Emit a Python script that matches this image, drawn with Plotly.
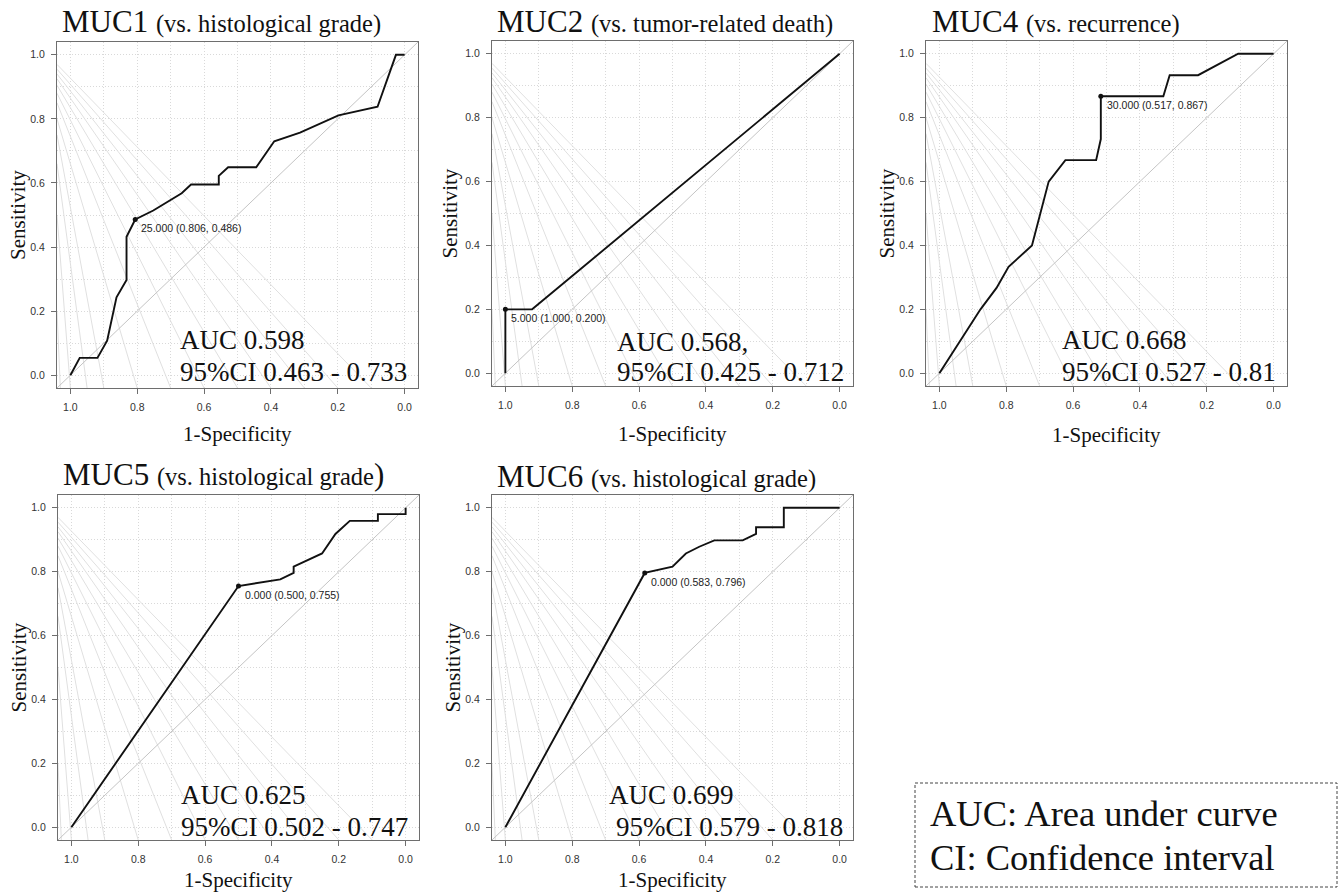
import plotly.graph_objects as go

W, H = 1344, 893

# ---------------- data ----------------
PANEL_NAMES = ["MUC1", "MUC2", "MUC4", "MUC5", "MUC6"]
SUBTITLES = ["(vs. histological grade)", "(vs. tumor-related death)",
             "(vs. recurrence)", "(vs. histological grade", "(vs. histological grade)"]
BIG_CLOSE_PAREN = [False, False, False, True, False]

# specificity (x, plotted 1 -> 0) and sensitivity (y)
spec_muc1 = [1.0, 0.972, 0.919, 0.890, 0.862, 0.832, 0.832, 0.806, 0.752, 0.667, 0.639,
             0.556, 0.556, 0.528, 0.444, 0.390, 0.313, 0.198, 0.081, 0.026, 0.0]
sens_muc1 = [0.0, 0.054, 0.054, 0.108, 0.243, 0.297, 0.432, 0.486, 0.514, 0.568, 0.595,
             0.595, 0.622, 0.649, 0.649, 0.730, 0.757, 0.811, 0.838, 1.0, 1.0]

spec_muc2 = [1.0, 1.0, 0.920, 0.0]
sens_muc2 = [0.0, 0.200, 0.200, 1.0]

spec_muc4 = [1.0, 0.877, 0.829, 0.793, 0.723, 0.673, 0.623, 0.531, 0.517, 0.517,
             0.330, 0.311, 0.226, 0.106, 0.0]
sens_muc4 = [0.0, 0.200, 0.267, 0.333, 0.400, 0.600, 0.667, 0.667, 0.733, 0.867,
             0.867, 0.933, 0.933, 1.0, 1.0]

spec_muc5 = [1.0, 0.500, 0.375, 0.335, 0.335, 0.250, 0.210, 0.167, 0.083, 0.083, 0.0, 0.0]
sens_muc5 = [0.0, 0.755, 0.776, 0.796, 0.816, 0.857, 0.918, 0.959, 0.959, 0.980, 0.980, 1.0]

spec_muc6 = [1.0, 0.583, 0.500, 0.460, 0.420, 0.375, 0.290, 0.250, 0.250, 0.167, 0.167, 0.0]
sens_muc6 = [0.0, 0.796, 0.816, 0.857, 0.878, 0.898, 0.898, 0.918, 0.939, 0.939, 1.0, 1.0]

SPECS = [spec_muc1, spec_muc2, spec_muc4, spec_muc5, spec_muc6]
SENSS = [sens_muc1, sens_muc2, sens_muc4, sens_muc5, sens_muc6]

THRESHOLDS = ["25.000", "5.000", "30.000", "0.000", "0.000"]
BEST_SPEC = [0.806, 1.000, 0.517, 0.500, 0.583]
BEST_SENS = [0.486, 0.200, 0.867, 0.755, 0.796]

AUC_TEXT = ["AUC 0.598", "AUC 0.568,", "AUC 0.668", "AUC 0.625", "AUC 0.699"]
CI_TEXT = ["95%CI 0.463 - 0.733", "95%CI 0.425 - 0.712", "95%CI 0.527 - 0.81",
           "95%CI 0.502 - 0.747", "95%CI 0.579 - 0.818"]

TICK_VALS = [0.0, 0.2, 0.4, 0.6, 0.8, 1.0]
TICK_TEXT = ["0.0", "0.2", "0.4", "0.6", "0.8", "1.0"]

# light background fan lines: from left frame (y) to bottom frame (x)
FAN_LEFT_Y = [0.97, 0.955, 0.94, 0.925, 0.905, 0.88, 0.85, 0.80, 0.75, 0.66, 0.50, 0.20]
FAN_BOTTOM_X = [0.10, 0.20, 0.30, 0.40, 0.50, 0.60, 0.70, 0.80, 0.90, 0.95, 1.00, 1.03]

LEGEND_LINES = ["AUC: Area under curve", "CI: Confidence interval"]

# ---------------- layout constants (pixels) ----------------
BOXES = [(57, 42, 418, 388), (492, 41, 853, 386), (926, 41, 1287, 386),
         (58, 495, 419, 840), (492, 495, 853, 840)]
TITLE_POS = [(60, 22), (495, 21), (930, 21), (61, 474), (495, 476)]
YTITLE_X = [18, 450, 887, 18, 452]
XTITLE_Y = [434, 434, 435, 880, 880]
AUC_POS = [(178, 340, 372), (615, 342, 372), (1060, 340, 372), (179, 795, 827), (607, 795, 827)]
CI_X = [178, 615, 1060, 179, 614]

LO, HI = -0.04, 1.04
SERIF = "Liberation Serif, Times New Roman, serif"
SANS = "Liberation Sans, Arial, sans-serif"
FRAME = "#6e6e6e"
GRID = "#d9d9d9"

fig = go.Figure()
annotations = []
shapes = []


def px(x, y):
    return x / W, 1 - y / H


for i in range(5):
    n = "" if i == 0 else str(i + 1)
    xa, ya = "x" + n, "y" + n
    l, t, r, b = BOXES[i]

    # fan lines
    for fy, fx in zip(FAN_LEFT_Y, FAN_BOTTOM_X):
        fig.add_trace(go.Scatter(x=[HI, fx], y=[fy, LO], mode="lines", xaxis=xa, yaxis=ya,
                                 line=dict(color="#e0e0e0", width=1), hoverinfo="skip",
                                 showlegend=False))
    # diagonal
    fig.add_trace(go.Scatter(x=[HI, LO], y=[LO, HI], mode="lines", xaxis=xa, yaxis=ya,
                             line=dict(color="#c4c4c4", width=1), hoverinfo="skip",
                             showlegend=False))
    # ROC curve
    fig.add_trace(go.Scatter(x=SPECS[i], y=SENSS[i], mode="lines", xaxis=xa, yaxis=ya,
                             line=dict(color="#111111", width=1.9), showlegend=False))
    # best threshold point
    fig.add_trace(go.Scatter(x=[BEST_SPEC[i]], y=[BEST_SENS[i]], mode="markers", xaxis=xa,
                             yaxis=ya, marker=dict(color="#111111", size=5), showlegend=False))
    annotations.append(dict(
        x=BEST_SPEC[i], y=BEST_SENS[i], xref=xa, yref=ya, xanchor="left", yanchor="middle",
        xshift=4, yshift=-9, showarrow=False,
        text=f"{THRESHOLDS[i]} ({BEST_SPEC[i]:.3f}, {BEST_SENS[i]:.3f})",
        font=dict(family=SANS, size=10.5, color="#222222")))

    axis_common = dict(
        tickmode="array", tickvals=TICK_VALS, ticktext=TICK_TEXT,
        showline=True, mirror=True, linecolor=FRAME, linewidth=1,
        ticks="outside", ticklen=5, tickcolor=FRAME, tickwidth=1,
        tickfont=dict(family=SANS, size=10.5, color="#333333"),
        showgrid=True, gridcolor=GRID, griddash="1px,2px", gridwidth=1,
        minor=dict(dtick=0.1, tick0=0, showgrid=True, gridcolor=GRID,
                   griddash="1px,2px", ticks=""),
        zeroline=False, fixedrange=True, automargin=False,
    )
    x0, y1 = px(l, t)
    x1, y0 = px(r, b)
    fig.layout["xaxis" + n] = dict(axis_common, range=[HI, LO], domain=[x0, x1], anchor=ya,
                                   ticklabelstandoff=4)
    fig.layout["yaxis" + n] = dict(axis_common, range=[LO, HI], domain=[y0, y1], anchor=xa,
                                   ticklabelstandoff=4)

    # title
    close = "<span style='font-size:31px'>)</span>" if BIG_CLOSE_PAREN[i] else ""
    tx, ty = px(*TITLE_POS[i])
    annotations.append(dict(
        x=tx, y=ty, xref="paper", yref="paper", xanchor="left", yanchor="middle",
        showarrow=False,
        text=f"{PANEL_NAMES[i]} <span style='font-size:24.5px'>{SUBTITLES[i]}</span>{close}",
        font=dict(family=SERIF, size=31, color="#111111")))
    # axis titles
    sx, sy = px(YTITLE_X[i], (t + b) / 2)
    annotations.append(dict(x=sx, y=sy, xref="paper", yref="paper", xanchor="center",
                            yanchor="middle", textangle=-90, showarrow=False, text="Sensitivity",
                            font=dict(family=SERIF, size=21, color="#111111")))
    qx, qy = px((l + r) / 2, XTITLE_Y[i])
    annotations.append(dict(x=qx, y=qy, xref="paper", yref="paper", xanchor="center",
                            yanchor="middle", showarrow=False, text="1-Specificity",
                            font=dict(family=SERIF, size=21, color="#111111")))
    # AUC text
    ax_, ay1, ay2 = AUC_POS[i]
    for txt, xx, yy in [(AUC_TEXT[i], ax_, ay1), (CI_TEXT[i], CI_X[i], ay2)]:
        px_, py_ = px(xx, yy)
        annotations.append(dict(x=px_, y=py_, xref="paper", yref="paper", xanchor="left",
                                yanchor="middle", showarrow=False, text=txt,
                                font=dict(family=SERIF, size=27, color="#111111")))

# legend box
bx0, by1 = px(915, 783)
bx1, by0 = px(1337, 887)
shapes.append(dict(type="rect", xref="paper", yref="paper", x0=bx0, x1=bx1, y0=by0, y1=by1,
                   line=dict(color="#444444", width=1, dash="3px,2px")))
for txt, yy in zip(LEGEND_LINES, [813, 857]):
    lx, ly = px(928, yy)
    annotations.append(dict(x=lx, y=ly, xref="paper", yref="paper", xanchor="left",
                            yanchor="middle", showarrow=False, text=txt,
                            font=dict(family=SERIF, size=36.5, color="#111111")))

fig.update_layout(width=W, height=H, margin=dict(l=0, r=0, t=0, b=0, autoexpand=False),
                  paper_bgcolor="white", plot_bgcolor="white",
                  annotations=annotations, shapes=shapes, showlegend=False)

fig.write_html("out.html", config={"displayModeBar": False, "staticPlot": False},
               post_script="document.body.style.margin='0';document.body.style.padding='0';"
                           "document.body.style.overflow='hidden';")
